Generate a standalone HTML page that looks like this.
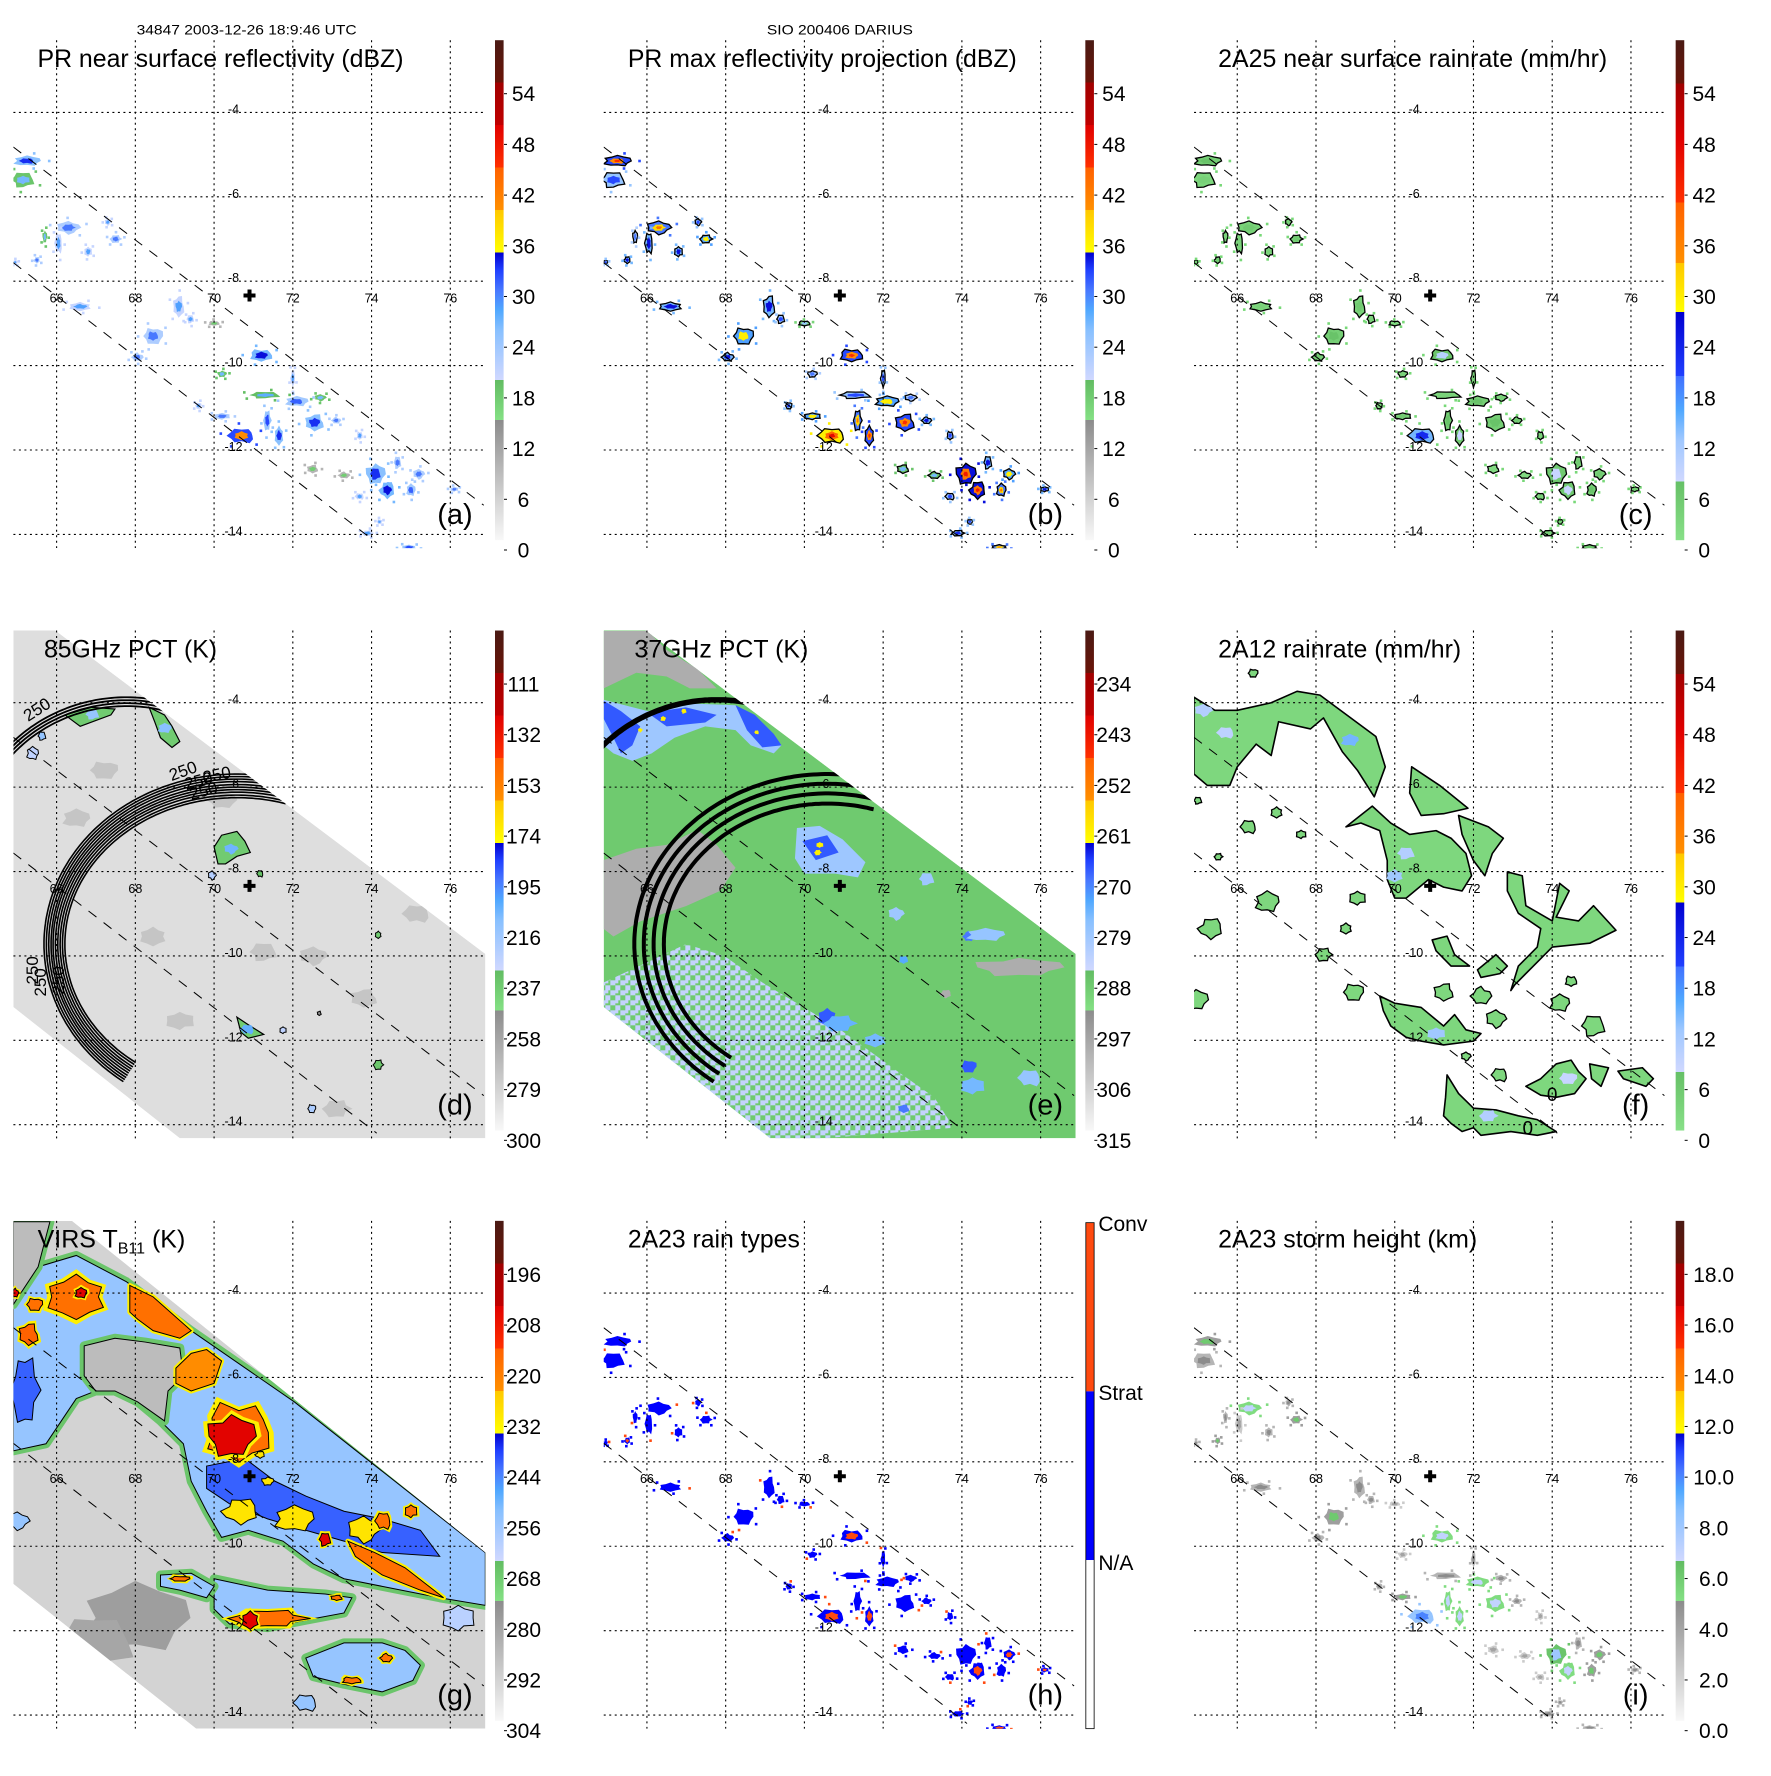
<!DOCTYPE html>
<html><head><meta charset="utf-8">
<style>
html,body{margin:0;padding:0;background:#fff}
svg text{font-family:"Liberation Sans",Arial,sans-serif;}
</style></head>
<body>
<svg id="fig" width="1771" height="1771" viewBox="0 0 1771 1771" xmlns="http://www.w3.org/2000/svg">
<rect width="1771" height="1771" fill="#fff"/>
<defs>
<clipPath id="plotclip"><rect x="13.4" y="40.2" width="472.1" height="508"/></clipPath>
<pattern id="mixpat" width="10" height="10" patternUnits="userSpaceOnUse"><rect width="5" height="5" fill="#c4d2ff"/><rect x="5" y="5" width="5" height="5" fill="#c4d2ff"/><rect x="5" y="0" width="3" height="3" fill="#c4d2ff"/></pattern>
</defs>
</svg>
<script>
// ---------- data ----------
const lonTicks=[66,68,70,72,74,76];
const latTicks=[-4,-6,-8,-10,-12,-14];
const prLon=[65.25,65.15,66.30,66.05,66.80,67.50,66.60,68.45,69.10,68.05,71.20,70.20,72.00,72.10,71.30,72.70,70.70,70.20,71.35,71.65,69.60,72.55,73.10,73.70,74.10,74.40,75.00,74.66,75.20,73.70,76.10,73.90,74.95,74.20,72.50,73.30,70.00,65.70,65.50,64.95,69.40,67.30];
const prLat=[-5.15,-5.60,-6.73,-7.10,-7.30,-7.00,-8.60,-9.30,-8.60,-9.80,-9.76,-10.20,-10.30,-10.85,-10.70,-10.76,-11.66,-11.20,-11.30,-11.66,-10.95,-11.35,-11.30,-11.66,-12.57,-12.95,-12.95,-12.30,-12.57,-13.10,-12.93,-13.97,-14.30,-13.70,-12.45,-12.60,-9.00,-6.95,-7.50,-7.55,-8.90,-6.60];
const prRx=[.35,.30,.30,.10,.10,.15,.30,.25,.15,.15,.30,.12,.06,.30,.40,.15,.35,.20,.10,.12,.08,.25,.12,.08,.25,.20,.12,.10,.15,.12,.10,.15,.20,.07,.15,.15,.15,.06,.08,.05,.10,.08];
const prRy=[.12,.18,.15,.25,.12,.10,.10,.20,.25,.10,.15,.08,.20,.12,.08,.08,.18,.08,.25,.22,.08,.20,.08,.10,.25,.20,.15,.15,.12,.08,.06,.07,.05,.06,.10,.08,.06,.15,.08,.05,.10,.08];
const aVal=[33,26,30,28,28,30,28,30,28,30,34,26,28,31,27,26,40,30,32,33,28,33,30,28,33,34,31,30,30,28,30,28,32,28,17,17,17,26,30,28,28,28];
const bVal=[40,32,38,34,34,36,34,36,34,34,40,30,32,36,32,30,44,36,38,40,33,40,34,32,42,42,38,34,36,32,34,33,38,32,26,26,24,30,34,32,32,32];
const cVal=[4,2,3,2,2,3,2,4,3,3,6,2,2,4,2,2,14,3,4,5,2,4,3,2,5,5,4,3,3,2,3,2,4,2,1,1,1,2,3,2,2,2];
const hVal=[1,1,1,1,1,1,1,1,1,1,2,1,1,1,1,1,2,1,1,2,1,1,1,1,1,2,1,1,2,1,2,1,2,1,1,1,1,1,2,1,1,1];
const iVal=[5,4,6,3,4,5,4,5,4,4,6,3,4,6,4,4,9,5,6,6,4,6,4,3,7,6,5,4,5,3,4,4,4,4,3,3,3,4,5,4,4,4];

const ticksDBZ=['0','6','12','18','24','30','36','42','48','54'];
const ticksD=['300','279','258','237','216','195','174','153','132','111'];
const ticksE=['315','306','297','288','279','270','261','252','243','234'];
const ticksG=['304','292','280','268','256','244','232','220','208','196'];
const ticksI=['0.0','2.0','4.0','6.0','8.0','10.0','12.0','14.0','16.0','18.0'];

const prEdgeLon=[[64.90,76.85],[64.90,74.13]];
const prEdgeLat=[[-4.82,-13.31],[-7.56,-14.20]];
const tmiSwath=[[64.90,-2.29],[65.97,-2.29],[76.89,-9.95],[76.89,-14.32],[69.13,-14.32],[64.90,-11.21]];
const virsSwath=[[64.90,-2.29],[66.39,-2.29],[76.89,-10.15],[76.89,-14.32],[69.54,-14.32],[64.90,-10.89]];

// rings (lon/lat center, radii deg)
const bigRingCenter=[70.58,-9.72];
const bigRingRxD=[4.90,4.84,4.78,4.72,4.67,4.61,4.55,4.49,4.43,4.37];
const bigRingRyD=[4.03,3.97,3.91,3.85,3.78,3.72,3.66,3.60,3.53,3.47];
const bigRingRxE=[4.90,4.66,4.41,4.15];
const bigRingRyE=[4.03,3.80,3.57,3.33];
const smallRingCenter=[67.77,-7.50];
const smallRingRxD=[4.08,4.01,3.94,3.87];
const smallRingRyD=[3.63,3.56,3.49,3.42];

// panel d blobs
const dPolys=[
 [[68.35,-4.11],[68.74,-4.29],[68.93,-4.56],[69.13,-4.92],[68.93,-5.06],[68.64,-4.83],[68.50,-4.47]],
 [[66.21,-4.29],[66.89,-4.11],[67.48,-4.15],[67.38,-4.29],[66.60,-4.56]],
 [[70.0,-7.42],[70.19,-7.14],[70.58,-7.05],[70.78,-7.28],[70.92,-7.55],[70.58,-7.64],[70.29,-7.82],[70.10,-7.82]],
 [[70.58,-11.45],[70.87,-11.63],[71.26,-11.86],[70.87,-11.95],[70.68,-11.81]]
];
const dPolyVal=[232,236,228,226];
const dSpotLon=[65.39,65.63,69.95,71.17,71.75,74.17,74.17,72.48,72.67];
const dSpotLat=[-5.20,-4.79,-8.09,-8.05,-11.76,-12.58,-9.50,-13.62,-11.36];
const dSpotR=[.15,.1,.1,.08,.08,.12,.08,.1,.05];
const dSpotVal=[228,215,225,235,228,238,240,222,250];
const dGrayLon=[66.50,71.26,72.52,75.15,69.13,73.11,68.45,67.2,73.8,70.2];
const dGrayLat=[-6.74,-9.91,-10.0,-9.0,-11.54,-13.62,-9.54,-5.6,-11.0,-6.3];

// panel e
const ePolys=[
 [[64.90,-2.30],[66.02,-2.30],[66.50,-2.75],[67.28,-3.20],[67.77,-3.66],[67.09,-3.66],[66.50,-3.38],[65.73,-3.29],[64.90,-3.66]],
 [[64.90,-7.73],[65.73,-7.46],[66.50,-7.37],[67.28,-7.01],[67.77,-7.37],[68.25,-7.91],[67.86,-8.46],[66.99,-8.82],[65.83,-9.18],[65.15,-9.54],[64.90,-9.36]],
 [[64.90,-3.93],[66.02,-4.20],[67.09,-4.02],[68.25,-4.06],[68.93,-4.47],[69.42,-5.01],[69.22,-5.20],[68.64,-5.01],[68.25,-4.65],[67.48,-4.56],[66.70,-4.83],[66.12,-5.20],[65.63,-5.38],[65.15,-5.20],[64.90,-5.01]],
 [[64.90,-3.95],[65.34,-4.20],[65.83,-4.56],[65.63,-5.01],[65.34,-5.20],[65.15,-4.83],[64.90,-4.38]],
 [[66.02,-4.24],[66.99,-4.11],[67.77,-4.29],[67.48,-4.47],[66.50,-4.56]],
 [[68.25,-4.06],[68.74,-4.29],[69.22,-4.74],[69.42,-5.01],[68.93,-5.06],[68.54,-4.65]],
 [[69.81,-6.97],[70.39,-6.92],[70.97,-7.24],[71.55,-7.78],[71.36,-8.14],[70.78,-8.05],[70.0,-8.05],[69.76,-7.69]],
 [[69.95,-7.28],[70.58,-7.14],[70.87,-7.55],[70.29,-7.73]]
];
const ePolyVal=[300,300,280,268,268,268,280,268];
const ePale=[[64.90,-10.63],[65.73,-10.27],[66.99,-9.72],[67.96,-10.0],[68.93,-10.63],[69.90,-11.17],[70.87,-11.72],[72.33,-12.71],[73.30,-13.35],[73.79,-14.07],[70.39,-14.33],[64.90,-14.33]];
const eSpotLon=[66.41,66.94,65.83,68.79,70.39,70.34,70.58,74.17,72.52,74.17,72.52,75.44,73.59,74.6,73.11,72.33,75.73,74.27,70.9,71.8];
const eSpotLat=[-4.38,-4.20,-4.65,-4.70,-7.37,-7.55,-11.45,-12.62,-13.62,-9.54,-10.09,-10.27,-10.9,-9.5,-8.18,-9.0,-12.89,-13.08,-11.6,-12.0];
const eSpotRx=[.07,.07,.06,.06,.09,.09,.25,.2,.15,.15,.12,1.1,.15,.5,.2,.2,.3,.3,.4,.3];
const eSpotRy=[.06,.06,.05,.05,.07,.07,.2,.15,.1,.12,.1,.22,.1,.15,.15,.15,.2,.2,.2,.15];
const eSpotVal=[261,261,261,261,261,261,268,268,270,270,274,300,300,279,280,280,279,276,275,276];

// panel f
const fPolys=[
 [[64.90,-3.87],[65.43,-4.18],[66.0,-4.18],[66.86,-4.0],[67.52,-3.73],[68.10,-3.82],[69.52,-4.80],[69.76,-5.52],[69.48,-6.23],[69.05,-5.60],[68.67,-5.16],[68.19,-4.36],[67.86,-4.62],[67.05,-4.45],[66.86,-5.25],[66.48,-4.98],[66.0,-5.52],[65.81,-5.96],[65.24,-5.96],[64.90,-5.69]],
 [[68.76,-6.94],[69.43,-6.45],[69.90,-6.85],[70.38,-7.12],[71.05,-7.03],[71.43,-7.21],[71.81,-7.57],[71.95,-8.10],[71.71,-8.46],[71.24,-8.37],[70.86,-8.19],[70.29,-8.63],[70.0,-8.63],[69.81,-8.19],[69.81,-7.74],[69.62,-7.03],[69.14,-6.85]],
 [[70.43,-5.52],[71.14,-5.96],[71.86,-6.50],[71.24,-6.63],[70.67,-6.67],[70.38,-6.14]],
 [[71.62,-6.67],[72.38,-6.94],[72.76,-7.21],[72.48,-7.57],[72.29,-8.10],[72.0,-7.74],[71.71,-7.12]],
 [[72.86,-8.01],[73.24,-8.10],[73.33,-8.81],[74.0,-9.17],[74.19,-8.28],[74.43,-8.46],[74.10,-9.08],[74.67,-9.17],[75.05,-8.81],[75.62,-9.39],[74.95,-9.70],[74.0,-9.79],[73.52,-10.24],[73.05,-10.68],[72.95,-10.82],[73.14,-10.24],[73.62,-9.79],[73.71,-9.35],[73.14,-8.99],[72.86,-8.46]],
 [[70.95,-9.62],[71.33,-9.53],[71.52,-9.97],[71.90,-10.24],[71.43,-10.24],[71.05,-9.88]],
 [[72.10,-10.33],[72.57,-9.97],[72.86,-10.24],[72.67,-10.42],[72.19,-10.51]],
 [[69.62,-10.95],[70.0,-11.12],[70.67,-11.22],[71.24,-11.66],[71.52,-11.39],[71.81,-11.75],[72.19,-11.84],[72.0,-12.02],[71.24,-12.11],[70.67,-12.02],[70.29,-11.93],[69.90,-11.66],[69.71,-11.30]],
 [[71.33,-12.82],[71.62,-13.26],[72.0,-13.61],[72.57,-13.65],[73.14,-13.79],[73.62,-13.88],[74.10,-14.16],[73.62,-14.25],[72.95,-14.16],[72.19,-14.25],[72.0,-14.07],[71.71,-14.16],[71.43,-13.97],[71.24,-13.79],[71.29,-13.35]],
 [[73.33,-13.09],[73.71,-12.91],[74.10,-12.56],[74.48,-12.47],[74.67,-12.74],[74.86,-12.91],[74.57,-13.26],[74.10,-13.35],[73.71,-13.30]],
 [[75.67,-12.73],[76.29,-12.65],[76.57,-12.91],[76.38,-13.09],[75.81,-12.91]],
 [[74.95,-12.56],[75.43,-12.65],[75.24,-13.09],[75.0,-12.91]]
];
const fSpotLon=[74.19,75.05,72.57,66.29,69.05,68.19,68.76,68.95,71.24,72.19,74.48,64.95,65.33,66.76,65.0,71.81,72.67,67.62,65.52,67.0,66.4];
const fSpotLat=[-11.12,-11.66,-11.49,-6.94,-8.63,-9.97,-9.35,-10.86,-10.86,-10.95,-10.6,-11.04,-9.35,-8.72,-6.32,-12.38,-12.82,-7.12,-7.65,-6.6,-3.3];
const fSpotR=[.25,.3,.25,.2,.2,.2,.15,.25,.25,.25,.15,.3,.3,.3,.1,.12,.2,.12,.1,.15,.12];
const fBlueLon=[68.86,70.29,65.14,65.71,71.05,72.38,70.0,74.4];
const fBlueLat=[-4.89,-7.57,-4.18,-4.71,-11.84,-13.79,-8.1,-12.9];
const fBlueVal=[14,10,10,9,12,10,12,8];

// panel g
const gPolys=[
 [[64.90,-4.27],[65.53,-3.38],[66.50,-3.11],[67.77,-3.73],[69.42,-4.89],[72.04,-6.58],[76.89,-10.15],[76.89,-11.40],[75.73,-11.22],[74.27,-10.95],[73.30,-10.77],[72.52,-10.42],[71.75,-9.88],[70.87,-9.62],[70.19,-9.79],[69.81,-9.17],[69.42,-8.46],[69.22,-7.57],[68.64,-7.03],[68.06,-6.58],[67.48,-6.32],[66.99,-6.32],[66.50,-6.50],[66.12,-7.03],[65.73,-7.57],[64.90,-7.74]],
 [[66.70,-5.25],[67.48,-5.07],[68.25,-5.16],[69.13,-5.30],[69.22,-5.96],[68.83,-6.32],[68.74,-7.03],[68.06,-6.58],[67.48,-6.32],[66.99,-6.32],[66.70,-5.96]],
 [[64.90,-2.31],[65.83,-2.31],[65.53,-3.38],[64.90,-4.27]],
 [[70.0,-10.77],[71.36,-11.04],[72.82,-11.13],[73.50,-11.22],[73.30,-11.58],[72.33,-11.75],[71.36,-11.93],[70.39,-11.84],[70.0,-11.49]],
 [[72.33,-12.65],[73.30,-12.29],[74.27,-12.29],[74.85,-12.47],[75.24,-12.82],[75.05,-13.18],[74.27,-13.45],[73.30,-13.27],[72.52,-13.09]],
 [[68.64,-10.68],[69.42,-10.64],[70.0,-10.95],[69.81,-11.22],[69.13,-11.04],[68.64,-10.95]],
 [[69.81,-8.10],[70.78,-7.92],[71.55,-8.46],[72.33,-8.81],[73.30,-9.17],[74.27,-9.35],[75.24,-9.62],[75.73,-10.24],[74.27,-10.15],[73.30,-9.88],[72.33,-9.62],[71.36,-9.35],[70.39,-8.99],[69.81,-8.63]],
 [[67.86,-3.82],[68.45,-4.09],[69.42,-4.89],[69.13,-5.07],[68.45,-4.89],[68.06,-4.62],[67.86,-4.45]],
 [[69.03,-5.78],[69.42,-5.43],[69.81,-5.34],[70.19,-5.61],[70.0,-6.14],[69.42,-6.32],[69.03,-6.14]],
 [[73.40,-9.88],[74.08,-10.15],[74.85,-10.51],[75.83,-11.22],[75.24,-11.04],[74.27,-10.68],[73.59,-10.24]]
];
const gPolyVal=[256,288,288,256,256,256,242,218,224,218];
const gEllLon=[68.0,67.0,65.0,72.33,76.2,65.2,66.50,65.44,65.29,64.95,70.63,70.44,70.68,72.04,72.82,73.8,74.3,75.0,71.36,70.92,69.13,73.11,74.37,73.50,71.36,71.17,66.62];
const gEllLat=[-11.7,-12.3,-9.4,-13.71,-11.7,-6.3,-4.09,-4.27,-4.98,-4.0,-7.30,-7.39,-9.17,-9.35,-9.84,-9.6,-9.4,-9.17,-11.71,-11.75,-10.77,-11.22,-12.65,-13.18,-8.46,-7.83,-4.0];
const gEllRx=[1.4,1.0,.3,.3,.4,.35,.78,.2,.25,.08,.83,.6,.45,.5,.15,.4,.2,.15,.95,.22,.25,.15,.15,.25,.15,.12,.15];
const gEllRy=[.8,.6,.2,.2,.3,.8,.49,.15,.25,.1,.71,.5,.3,.3,.15,.3,.2,.15,.2,.2,.06,.06,.1,.08,.1,.08,.12];
const gEllVal=[280,282,256,256,262,242,218,218,215,205,218,205,230,230,205,230,218,218,218,205,218,218,218,218,230,230,205];

// ---------- helpers ----------
const NS='http://www.w3.org/2000/svg';
const svg=document.getElementById('fig');
const defs=svg.querySelector('defs');
function mk(tag,attrs,parent){const e=document.createElementNS(NS,tag);for(const k in attrs)e.setAttribute(k,attrs[k]);if(parent)parent.appendChild(e);return e;}
function X(lon){return 56.6+(lon-66)*39.37;}
function Y(lat){return 112.4+(-4-lat)*42.2;}
const stopsA=[[0,'#f8f8f8'],[0.24,'#8c8c8c'],[0.2401,'#84e084'],[0.32,'#62bc62'],[0.3201,'#d0d8ff'],[0.42,'#88c0ff'],[0.46,'#50a8ff'],[0.5,'#4878ff'],[0.54,'#2040ff'],[0.575,'#0000d0'],[0.5751,'#ffff00'],[0.66,'#ffc800'],[0.6601,'#ff9000'],[0.745,'#ff6000'],[0.7451,'#ff3000'],[0.83,'#e00000'],[0.8301,'#c00000'],[0.915,'#a00000'],[0.9151,'#6a1408'],[1,'#4a1a14']];
const stopsB=[[0,'#88e088'],[0.117,'#66c066'],[0.1171,'#d0d8ff'],[0.2,'#a0c8ff'],[0.26,'#50a8ff'],[0.328,'#4070ff'],[0.3281,'#2040ff'],[0.456,'#0000d0'],[0.4561,'#ffff00'],[0.554,'#ffc800'],[0.5541,'#ff9000'],[0.675,'#ff6000'],[0.6751,'#ff3000'],[0.8,'#e00000'],[0.913,'#a00000'],[0.9131,'#6a1408'],[1,'#4a1a14']];
function h2r(h){return [parseInt(h.slice(1,3),16),parseInt(h.slice(3,5),16),parseInt(h.slice(5,7),16)];}
function cmap(stops,f){f=Math.max(0,Math.min(1,f));for(let i=1;i<stops.length;i++){if(f<=stops[i][0]){const a=stops[i-1],b=stops[i];const t=(f-a[0])/((b[0]-a[0])||1);const c1=h2r(a[1]),c2=h2r(b[1]);return 'rgb('+c1.map((v,k)=>Math.round(v+(c2[k]-v)*t)).join(',')+')';}}return stops[stops.length-1][1];}
const JIT=[1,.82,1.1,.78,.95,1.15,.72,1.02,.86,1.1,.9,1.06,.8];
function blobD(cx,cy,rx,ry,seed){let d='';const n=12;for(let k=0;k<n;k++){const a=k/n*Math.PI*2;const j=JIT[(k+seed)%JIT.length];d+=(k?'L':'M')+(cx+rx*j*Math.cos(a)).toFixed(1)+','+(cy+ry*j*Math.sin(a)).toFixed(1);}return d+'Z';}
function polyD(pts){return pts.map((p,i)=>(i?'L':'M')+X(p[0]).toFixed(1)+','+Y(p[1]).toFixed(1)).join('')+'Z';}

const COL=590.33;
const panels=[
 {id:'a',c:0,r:0,title:'PR near surface reflectivity (dBZ)',tl:366,stops:stopsA,frac:v=>v/60,ticks:ticksDBZ,lx:523.5},
 {id:'b',c:1,r:0,title:'PR max reflectivity projection (dBZ)',tl:389,stops:stopsA,frac:v=>v/60,ticks:ticksDBZ,lx:523.5},
 {id:'c',c:2,r:0,title:'2A25 near surface rainrate (mm/hr)',tl:389,stops:stopsB,frac:v=>v/60,ticks:ticksDBZ,lx:523.5},
 {id:'d',c:0,r:1,title:'85GHz PCT (K)',tl:173,stops:stopsA,frac:v=>(300-v)/210,ticks:ticksD,lx:523.5},
 {id:'e',c:1,r:1,title:'37GHz PCT (K)',tl:174,stops:stopsA,frac:v=>(315-v)/90,ticks:ticksE,lx:523.5},
 {id:'f',c:2,r:1,title:'2A12 rainrate (mm/hr)',tl:243,stops:stopsB,frac:v=>v/60,ticks:ticksDBZ,lx:523.5},
 {id:'g',c:0,r:2,title:null,stops:stopsA,frac:v=>(304-v)/120,ticks:ticksG,lx:523.5},
 {id:'h',c:1,r:2,title:'2A23 rain types',tl:172,stops:null,ticks:null},
 {id:'i',c:2,r:2,title:'2A23 storm height (km)',tl:259,stops:stopsA,frac:v=>v/20,ticks:ticksI,lx:533}
];

// gradients
[['gradA',stopsA],['gradB',stopsB]].forEach(([id,st])=>{
 const lg=mk('linearGradient',{id:id,x1:0,y1:1,x2:0,y2:0},defs);
 st.forEach(s=>mk('stop',{offset:s[0],'stop-color':s[1]},lg));
});
// swath clips
[['tmiclip',tmiSwath],['virsclip',virsSwath]].forEach(([id,sw])=>{
 const cp=mk('clipPath',{id:id},defs);
 mk('path',{d:polyD(sw)},cp);
});

function drawArc(parent,cLon,cLat,rxD,ryD,t0,t1,w,name){
 const cx=X(cLon),cy=Y(cLat),rx=rxD*39.37,ry=ryD*42.2;
 let d='';for(let t=t0;t<=t1+1e-6;t+=0.02){d+=(d?'L':'M')+(cx+rx*Math.cos(t)).toFixed(1)+','+(cy+ry*Math.sin(t)).toFixed(1);}
 const p=mk('path',{d:d,fill:'none',stroke:'#000','stroke-width':w},parent);
 
 
}

function drawPR(g,vals,P,mode){
 for(let i=0;i<prLon.length;i++){
  const cx=X(prLon[i]),cy=Y(prLat[i]);
  const rx=Math.max(2.2,prRx[i]*39.37),ry=Math.max(2.2,prRy[i]*42.2);
  const v=vals[i];let outer,inner,stroke='none';
  if(mode==='h'){outer='#0000ff';inner=v===2?'#ff4a10':'#0000ff';}
  else if(mode==='c'){outer=cmap(P.stops,P.frac(v));inner=cmap(P.stops,P.frac(v*1.6));stroke='#000';}
  else if(mode==='i'){outer=cmap(P.stops,P.frac(v-1));inner=cmap(P.stops,P.frac(v+0.8));}
  else {outer=cmap(P.stops,P.frac(v-8));inner=cmap(P.stops,P.frac(v));if(mode==='b')stroke='#000';}
  const o=mk('path',{d:blobD(cx,cy,rx,ry,i),fill:outer,stroke:stroke,'stroke-width':1.3},g);
  
  
  const n=mk('path',{d:blobD(cx,cy,rx*0.55,ry*0.55,i+3),fill:inner},g);
  
  
  if(mode==='b'&&v>=38){const k=mk('path',{d:blobD(cx,cy,rx*0.25,ry*0.25,i+5),fill:cmap(P.stops,P.frac(v+5))},g);
   
   }
  for(let s=0;s<5;s++){
   const a=(i*1.7+s*1.26);const rr=1.3+0.3*JIT[s];
   const sp=mk('rect',{x:(cx+rx*rr*Math.cos(a)-1.2).toFixed(1),y:(cy+ry*rr*Math.sin(a)-1.2).toFixed(1),width:2.6,height:2.6,fill:(mode==='h'&&s===2)?'#ff4a10':(mode==='c'?'#78d878':outer)},g);
   
   
  }
 }
}

panels.forEach(P=>{
 const G=mk('g',{transform:'translate('+(P.c*COL).toFixed(2)+','+(P.r*COL).toFixed(2)+')'},svg);
 
 
 const plot=mk('g',{'clip-path':'url(#plotclip)'},G);
 
 
 const col=v=>cmap(P.stops,P.frac(v));

 if(P.id==='a')drawPR(plot,aVal,P,'a');
 if(P.id==='b')drawPR(plot,bVal,P,'b');
 if(P.id==='c')drawPR(plot,cVal,P,'c');
 if(P.id==='h')drawPR(plot,hVal,P,'h');
 if(P.id==='i')drawPR(plot,iVal,P,'i');

 if(P.id==='d'||P.id==='e'){
  const sw=mk('g',{'clip-path':'url(#tmiclip)'},plot);
  
  
  const bg=mk('path',{d:polyD(tmiSwath),fill:P.id==='d'?col(288):col(289)},sw);
  
  
  if(P.id==='d'){
   dGrayLon.forEach((lo,i)=>{const e=mk('path',{d:blobD(X(lo),Y(dGrayLat[i]),14,9,i),fill:col(276)},sw);
    
    });
   dPolys.forEach((pts,i)=>{
    const p=mk('path',{d:polyD(pts),fill:col(240),stroke:'#000','stroke-width':1.2},sw);
    
    
    const xs=pts.reduce((s,q)=>s+q[0],0)/pts.length,ys=pts.reduce((s,q)=>s+q[1],0)/pts.length;
    const q=mk('path',{d:blobD(X(xs),Y(ys),7,5,i),fill:col(dPolyVal[i]-20)},sw);
    
    
   });
   dSpotLon.forEach((lo,i)=>{const r=dSpotR[i];const e=mk('path',{d:blobD(X(lo),Y(dSpotLat[i]),r*39.37,r*42.2,i),fill:col(dSpotVal[i]),stroke:'#000','stroke-width':1},sw);
    
    });
   bigRingRxD.forEach((rx,i)=>drawArc(sw,bigRingCenter[0],bigRingCenter[1],rx,bigRingRyD[i],2.2,5.0,1.6,'contour-ring'));
   smallRingRxD.forEach((rx,i)=>drawArc(sw,smallRingCenter[0],smallRingCenter[1],rx,smallRingRyD[i],3.8,5.0,1.8,'contour-ring'));
  } else {
   const pl=mk('path',{d:polyD(ePale),fill:'url(#mixpat)'},sw);
   
   
   ePolys.forEach((pts,i)=>{const p=mk('path',{d:polyD(pts),fill:col(ePolyVal[i])},sw);
    
    });
   eSpotLon.forEach((lo,i)=>{const e=mk('path',{d:blobD(X(lo),Y(eSpotLat[i]),eSpotRx[i]*39.37,eSpotRy[i]*42.2,i),fill:col(eSpotVal[i])},sw);
    
    });
   bigRingRxE.forEach((rx,i)=>drawArc(sw,bigRingCenter[0],bigRingCenter[1],rx,bigRingRyE[i],2.2,5.0,4,'contour-ring'));
   drawArc(sw,smallRingCenter[0],smallRingCenter[1],4.02,3.57,3.8,5.0,5.5,'contour-ring');
  }
 }

 if(P.id==='f'){
  fPolys.forEach((pts,i)=>{const p=mk('path',{d:polyD(pts),fill:col(2),stroke:'#000','stroke-width':1.6,'stroke-linejoin':'round'},plot);
   
   });
  fSpotLon.forEach((lo,i)=>{const r=fSpotR[i];const e=mk('path',{d:blobD(X(lo),Y(fSpotLat[i]),r*39.37,r*0.8*42.2,i),fill:col(2),stroke:'#000','stroke-width':1.3},plot);
   
   });
  fBlueLon.forEach((lo,i)=>{const e=mk('path',{d:blobD(X(lo),Y(fBlueLat[i]),9,6,i),fill:col(fBlueVal[i])},plot);
   
   });
  [[74.0,-13.27],[73.38,-14.07]].forEach(p=>{const t=mk('text',{x:X(p[0]),y:Y(p[1])+7,'font-size':19,'text-anchor':'middle'},plot);t.textContent='0';
   
   });
 }

 if(P.id==='g'){
  const sw=mk('g',{'clip-path':'url(#virsclip)'},plot);
  
  
  const bg=mk('path',{d:polyD(virsSwath),fill:col(294)},sw);
  
  
  for(let i=0;i<2;i++){const e=mk('path',{d:blobD(X(gEllLon[i]),Y(gEllLat[i]),gEllRx[i]*39.37,gEllRy[i]*42.2,i),fill:col(gEllVal[i])},sw);
   
   }
  gPolys.forEach((pts,i)=>{
   const v=gPolyVal[i];
   const rim=v<=226?232:(v>=250&&v<=260?268:(v>=285?268:null));
   if(rim){const r=mk('path',{d:polyD(pts),fill:'none',stroke:col(rim),'stroke-width':v>=250?9:5,'stroke-linejoin':'round'},sw);
    
    }
   const p=mk('path',{d:polyD(pts),fill:col(v),stroke:'#000','stroke-width':1},sw);
   
   
  });
  for(let i=2;i<gEllLon.length;i++){
   const v=gEllVal[i];const cx=X(gEllLon[i]),cy=Y(gEllLat[i]),rx=gEllRx[i]*39.37,ry=gEllRy[i]*42.2;
   if(v<=226){const r=mk('path',{d:blobD(cx,cy,rx*1.12+2,ry*1.12+2,i),fill:col(232)},sw);
    
    }
   const e=mk('path',{d:blobD(cx,cy,rx,ry,i),fill:col(v),stroke:'#000','stroke-width':1},sw);
   
   
  }
 }

 // PR swath dashed edges
 prEdgeLon.forEach((ln,i)=>{
  const l=mk('line',{x1:X(ln[0]),y1:Y(prEdgeLat[i][0]),x2:X(ln[1]),y2:Y(prEdgeLat[i][1]),stroke:'#000','stroke-width':1,'stroke-dasharray':'10,9'},plot);
  
  
 });
 // grid
 lonTicks.forEach(lo=>{
  const l=mk('line',{x1:X(lo),y1:40.2,x2:X(lo),y2:548,stroke:'#000','stroke-width':1.1,'stroke-dasharray':'2,3.5'},G);
  
  
  const t=mk('text',{x:X(lo),y:302.5,'font-size':12.5,'text-anchor':'middle'},G);t.textContent=String(lo);
  
  
 });
 latTicks.forEach(la=>{
  const l=mk('line',{x1:13.4,y1:Y(la),x2:485.5,y2:Y(la),stroke:'#000','stroke-width':1.1,'stroke-dasharray':'2,3.5'},G);
  
  
  const t=mk('text',{x:233.5,y:Y(la)+1,'font-size':12.5,'text-anchor':'middle'},G);t.textContent=String(la);
  
  
 });
 // d contour labels
 if(P.id==='d'){
  [[40,124,-33],[185,186,-20],[200,196,-15],[218,190,-12],[205,206,-15],[38,380,-90],[46,392,-90],[64,390,-90]].forEach(q=>{
   const t=mk('text',{x:q[0],y:q[1],'font-size':17,'text-anchor':'middle',transform:'rotate('+q[2]+' '+q[0]+' '+q[1]+')'},G);t.textContent='250';
   
   
  });
 }
 // storm center cross
 const cx=X(70.9),cy=Y(-8.34);
 const cr=mk('path',{d:'M'+(cx-6)+','+(cy-2)+'h12v4h-12zM'+(cx-2)+','+(cy-6)+'h4v12h-4z',fill:'#000'},G);
 
 
 // title
 if(P.title){
  const t=mk('text',{x:P.id==='d'||P.id==='e'?44:37.5,y:67,'font-size':25,textLength:P.tl,lengthAdjust:'spacingAndGlyphs'},G);t.textContent=P.title;
  
  
 } else {
  const t=mk('text',{x:37.6,y:67,'font-size':25},G);
  
  
  t.appendChild(document.createTextNode('VIRS T'));
  const s=mk('tspan',{'font-size':16,dy:6},t);s.textContent='B11';
  const s2=mk('tspan',{dy:-6},t);s2.textContent=' (K)';
 }
 const lt=mk('text',{x:455,y:524,'font-size':29,'text-anchor':'middle'},G);lt.textContent='('+P.id+')';
 
 
 // colorbar
 if(P.stops){
  const cb=mk('rect',{x:495,y:40.2,width:8.6,height:500,fill:P.stops===stopsA?'url(#gradA)':'url(#gradB)'},G);
  
  
  P.ticks.forEach((lab,k)=>{
   const y=550-50.7*k;
   const tk=mk('line',{x1:504,y1:y,x2:507,y2:y,stroke:'#000','stroke-width':1},G);
   
   
   const t=mk('text',{x:P.lx,y:y+7.5,'font-size':21,'text-anchor':'middle'},G);t.textContent=lab;
   
   
  });
 } else {
  [['#ff4a10',42,168.7],['#0000ff',210.7,168.7],['#ffffff',379.4,168.7]].forEach(b=>{
   const r=mk('rect',{x:495.5,y:b[1],width:8.3,height:b[2],fill:b[0]},G);
   
   
  });
  const ob=mk('rect',{x:495.5,y:42,width:8.3,height:506,fill:'none',stroke:'#000','stroke-width':0.8},G);
  
  
  [['Conv',43],['Strat',212],['N/A',382]].forEach(q=>{
   const t=mk('text',{x:508,y:q[1]+7.5,'font-size':21},G);t.textContent=q[0];
   
   
  });
 }
 if(P.id==='a'){const t=mk('text',{x:246.6,y:34.5,'font-size':14,'text-anchor':'middle',textLength:220,lengthAdjust:'spacingAndGlyphs'},G);t.textContent='34847 2003-12-26 18:9:46 UTC';
  
  }
 if(P.id==='b'){const t=mk('text',{x:249.6,y:34.5,'font-size':14,'text-anchor':'middle',textLength:146,lengthAdjust:'spacingAndGlyphs'},G);t.textContent='SIO 200406 DARIUS';
  
  }
});
</script>
</body></html>
